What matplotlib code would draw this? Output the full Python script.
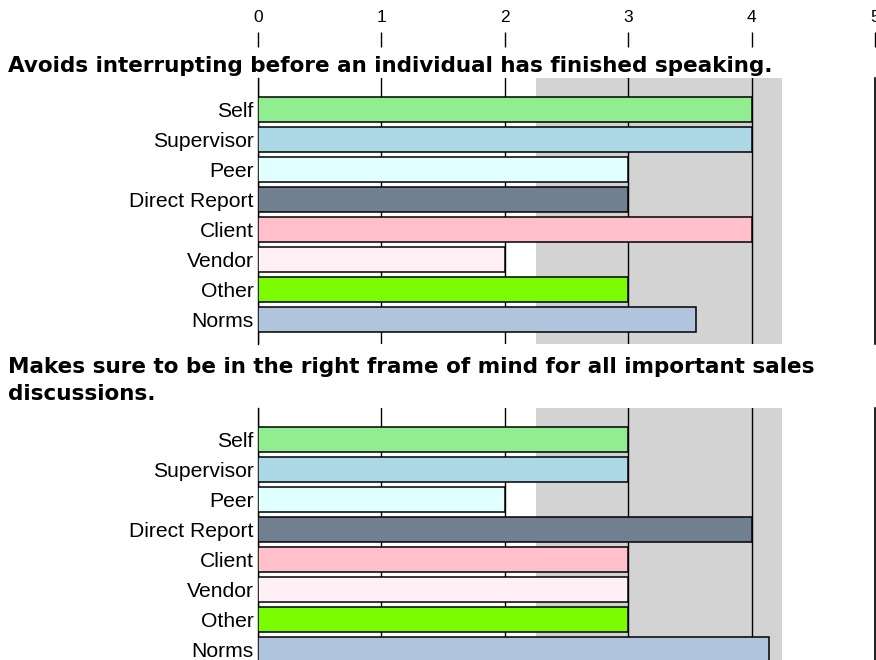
import matplotlib
matplotlib.use("Agg")
import matplotlib.pyplot as plt
import numpy as np

categories = ["Self", "Supervisor", "Peer", "Direct Report", "Client", "Vendor", "Other", "Norms"]
colors = ["#90EE90", "#ADD8E6", "#E0FFFF", "#708090", "#FFC0CB", "#FFF0F5", "#7CFC00", "#B0C4DE"]
title_q1 = ["Avoids interrupting before an individual has finished speaking."]
title_q2 = ["Makes sure to be in the right frame of mind for all important sales",
            "discussions."]
values_q1 = [4, 4, 3, 3, 4, 2, 3, 3.55]
values_q2 = [3, 3, 2, 4, 3, 3, 3, 4.14]
scale_ticks = [0, 1, 2, 3, 4, 5]
band = (2.25, 4.25)

W, H = 876, 660
fig = plt.figure(figsize=(W / 100, H / 100), dpi=100)

label_font = ["Liberation Sans", "DejaVu Sans"]
x0, x1 = 258, 875

def fx(px):
    return px / W

def fy(py):
    return 1 - py / H

# top scale axis
axt = fig.add_axes([fx(x0), fy(47), fx(x1 - x0), 0.0005])
axt.set_xlim(0, 5)
axt.set_ylim(0, 1)
for s in axt.spines.values():
    s.set_visible(False)
axt.set_yticks([])
axt.set_xticks(scale_ticks)
axt.set_xticklabels([str(t) for t in scale_ticks], family=label_font, fontsize=12.5)
axt.xaxis.set_ticks_position("top")
axt.tick_params(axis="x", direction="out", length=10.5, width=1, pad=5, colors="black")

px_per_unit = 30.0
panels = [
    (values_q1, title_q1, 78, 344, 72),
    (values_q2, title_q2, 408, 408 + 8.84 * px_per_unit, 373),
]

for vals, title_lines, top, bottom, ty in panels:
    h = bottom - top
    ax = fig.add_axes([fx(x0), fy(bottom), fx(x1 - x0), h / H])
    top_units = -1.05
    bottom_units = top_units + h / px_per_unit
    ax.set_xlim(0, 5)
    ax.set_ylim(bottom_units, top_units)
    ax.axvspan(band[0], band[1], color="#D3D3D3", zorder=0, lw=0)
    ypos = np.arange(len(categories))
    ax.barh(ypos, vals, height=0.86, color=colors, edgecolor="black", linewidth=1.1, zorder=3)
    ax.set_yticks(ypos)
    ax.set_yticklabels(categories, family=label_font, fontsize=15.2)
    ax.tick_params(axis="y", length=0, pad=3)
    ax.set_xticks(scale_ticks)
    ax.tick_params(axis="x", length=0, labelbottom=False)
    ax.grid(axis="x", color="black", linewidth=1.0, zorder=1)
    ax.set_axisbelow(True)
    for side in ["top", "bottom"]:
        ax.spines[side].set_visible(False)
    ax.spines["left"].set_linewidth(1.0)
    ax.spines["right"].set_linewidth(1.2)
    ax.patch.set_alpha(0)
    for i, line in enumerate(title_lines):
        fig.text(8 / W, fy(ty + 27 * i), line, ha="left", va="baseline", fontsize=15.5,
                 fontweight="bold", family="DejaVu Sans")

fig.savefig("out.png", dpi=100, facecolor="white")
